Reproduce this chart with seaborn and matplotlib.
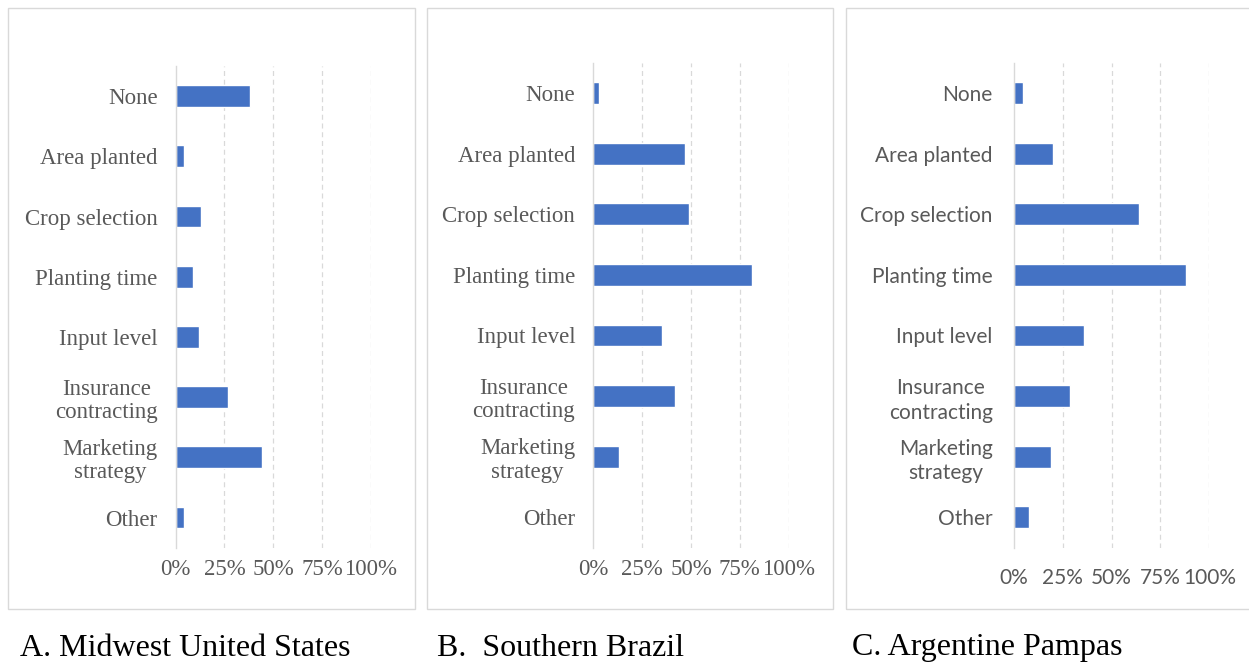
import matplotlib
matplotlib.use("Agg")
import matplotlib.pyplot as plt
from matplotlib.patches import Rectangle
import pandas as pd
import seaborn as sns

# Adaptation strategies reported by farmers (share of respondents, %)
categories = ["None", "Area planted", "Crop selection", "Planting time",
              "Input level", "Insurance\ncontracting", "Marketing\nstrategy", "Other"]
midwest_us = [38, 4, 13, 9, 12, 27, 44, 4]
southern_brazil = [3, 47, 49, 81, 35, 42, 13, 0]
argentine_pampas = [5, 20, 64, 88, 36, 29, 19, 8]

x_ticks = [0, 25, 50, 75, 100]
x_tick_labels = ["0%", "25%", "50%", "75%", "100%"]
captions = ["A. Midwest United States", "B.  Southern Brazil", "C. Argentine Pampas"]

sns.set_theme(style="white")

W, H = 1249, 665
fig = plt.figure(figsize=(W / 100, H / 100), dpi=100)

BAR = "#4472C4"
GRID = "#d9d9d9"
TEXT = "#595959"

panels = [
    dict(values=midwest_us, axes=(175.7, 66.0, 195.0, 547.6), family="Liberation Serif",
         size=16.5, xpad=8, ypad=13, lsp=1.15, box=(8, 8, 415, 609), cap_x=20),
    dict(values=southern_brazil, axes=(593.3, 62.7, 195.4, 547.6), family="Liberation Serif",
         size=16.5, xpad=8, ypad=13, lsp=1.15, box=(427, 8, 833, 609), cap_x=437),
    dict(values=argentine_pampas, axes=(1013.7, 62.7, 195.6, 547.6), family="Lato",
         size=15, xpad=15, ypad=15, lsp=1.3, box=(846, 8, 1252, 609), cap_x=852),
]

for p, cap in zip(panels, captions):
    x0, top, w, bottom = p["axes"]
    ax = fig.add_axes([x0 / W, 1 - bottom / H, w / W, (bottom - top) / H])
    df = pd.DataFrame({"category": categories, "share": p["values"]})
    sns.barplot(data=df, x="share", y="category", orient="h", color=BAR,
                width=0.36, saturation=1, ax=ax)
    ax.set_xlim(0, 100)
    ax.set_ylim(len(categories) - 0.5, -0.5)
    ax.set_xticks(x_ticks)
    ax.set_xticklabels(x_tick_labels)
    ax.set_xlabel("")
    ax.set_ylabel("")
    ax.grid(False)
    for xv in x_ticks[1:]:
        ax.axvline(xv, color=GRID, lw=0.9, ls=(0, (4, 3)), zorder=0)
    for side in ["top", "right", "bottom"]:
        ax.spines[side].set_visible(False)
    ax.spines["left"].set_color(GRID)
    ax.spines["left"].set_linewidth(1.0)
    ax.tick_params(axis="both", length=0)
    ax.tick_params(axis="y", pad=p["ypad"])
    ax.tick_params(axis="x", pad=p["xpad"])
    for lab in ax.get_yticklabels() + ax.get_xticklabels():
        lab.set_fontfamily(p["family"])
        lab.set_fontsize(p["size"])
        lab.set_color(TEXT)
    for lab in ax.get_yticklabels():
        lab.set_multialignment("center")
        lab.set_linespacing(p["lsp"])

    bx0, by0, bx1, by1 = p["box"]
    fig.patches.append(Rectangle((bx0 / W, 1 - by1 / H), (bx1 - bx0) / W, (by1 - by0) / H,
                                 transform=fig.transFigure, fill=False,
                                 edgecolor=GRID, linewidth=1.0))
    fig.text(p["cap_x"] / W, 1 - 648 / H, cap, family="Liberation Serif",
             fontsize=23, color="black", va="center", ha="left")

fig.savefig("out.png", dpi=100, facecolor="white")
